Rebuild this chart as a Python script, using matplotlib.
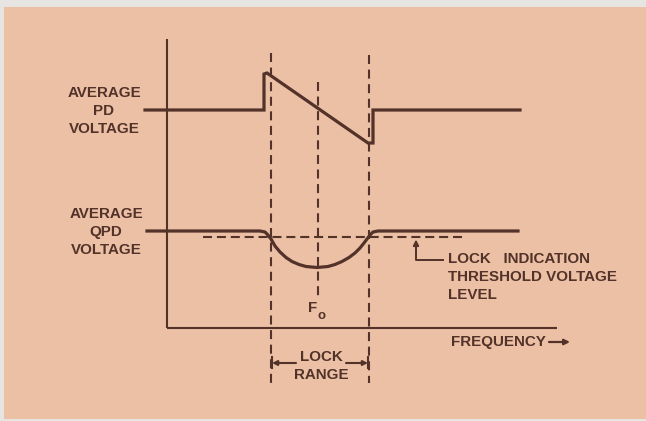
import matplotlib.pyplot as plt
from matplotlib.patches import Rectangle

plt.rcParams['font.family'] = ['Liberation Sans', 'DejaVu Sans']
plt.rcParams['lines.scale_dashes'] = False

##Setup
ink = '#523229'
paper = '#ecc0a5'
border = '#e7e5e2'

# sketch coordinates: frequency runs right, voltage level runs down the page
axis_origin = (167, 328)
yaxis_top = 39
xaxis_end = 557

# average phase detector output
pd_freq = [145, 264, 264, 267, 368, 373, 373, 520]
pd_volt = [110, 110, 74, 73, 143, 143, 110, 110]

# average quadrature phase detector output
qpd_freq = [147, 260, 265, 268, 271, 275, 280, 286, 292, 299, 306, 317,
            328, 335, 342, 349, 355, 360, 364, 367, 370, 373, 378, 518]
qpd_volt = [231, 231, 232, 235, 239, 246, 252, 257.5, 261.5, 264.5, 266.5, 267.5,
            266.5, 264.5, 261.5, 257.5, 253, 248, 243, 239, 235, 232, 231, 231]

# lock range edges and centre frequency
lock_lo, f_centre, lock_hi = 271, 318, 369
marker_top = [53, 82, 55]
marker_bottom = [383, 297, 383]

threshold = 237
threshold_span = (203, 463)

fig = plt.figure(figsize=(6.46, 4.21), dpi=100)
fig.patch.set_facecolor(border)
ax = fig.add_axes([0, 0, 1, 1])
ax.set_xlim(0, 646)
ax.set_ylim(421, 0)
ax.axis('off')
ax.add_patch(Rectangle((4, 7), 642, 412, facecolor=paper, edgecolor='none', zorder=0))

#%% axes
ax.plot([axis_origin[0], axis_origin[0]], [yaxis_top, axis_origin[1]], color=ink, lw=1.5,
        solid_capstyle='butt')
ax.plot([axis_origin[0], xaxis_end], [axis_origin[1], axis_origin[1]], color=ink, lw=1.5,
        solid_capstyle='butt')

#%% dashed markers
for x, top, bot in zip([lock_lo, f_centre, lock_hi], marker_top, marker_bottom):
    ax.plot([x, x], [top, bot], color=ink, lw=1.5, dashes=(6.5, 4))
ax.plot(threshold_span, [threshold, threshold], color=ink, lw=1.5, dashes=(6.5, 3.5))

#%% signals
ax.plot(pd_freq, pd_volt, color=ink, lw=2.3, solid_joinstyle='miter')
ax.plot(qpd_freq, qpd_volt, color=ink, lw=2.3, solid_joinstyle='round')

#%% labels
txt = dict(color=ink, fontsize=10.9, fontweight='bold', linespacing=1.38)
ax.text(104, 111, 'AVERAGE\nPD\nVOLTAGE', ha='center', va='center', **txt)
ax.text(106, 232, 'AVERAGE\nQPD\nVOLTAGE', ha='center', va='center', **txt)
ax.text(448, 277, 'LOCK   INDICATION\nTHRESHOLD VOLTAGE\nLEVEL', ha='left', va='center',
        **txt)
ax.text(313, 308, 'F', ha='center', va='center', **txt)
ax.text(322, 316, 'o', ha='center', va='center', color=ink, fontsize=9.5, fontweight='bold')
ax.text(451, 342, 'FREQUENCY', ha='left', va='center', **txt)
ax.text(321, 366, 'LOCK\nRANGE', ha='center', va='center', **txt)

# threshold leader
ax.plot([443, 416, 416], [260, 260, 246], color=ink, lw=1.4)
ax.annotate('', xy=(416, 239.5), xytext=(416, 248),
            arrowprops=dict(arrowstyle='-|>', color=ink, lw=1.4, mutation_scale=8,
                            shrinkA=0, shrinkB=0))

# frequency arrow
ax.annotate('', xy=(570, 342), xytext=(549, 342),
            arrowprops=dict(arrowstyle='-|>', color=ink, lw=1.6, mutation_scale=8,
                            shrinkA=0, shrinkB=0))

# lock range arrows
for start, end in [(296, lock_lo + 1), (346, lock_hi - 1)]:
    ax.annotate('', xy=(end, 363), xytext=(start, 363),
                arrowprops=dict(arrowstyle='-|>', color=ink, lw=1.5, mutation_scale=7,
                                shrinkA=0, shrinkB=0))
    ax.plot([end, end], [357, 368], color=ink, lw=1.5)

fig.savefig('out.png', dpi=100, facecolor=fig.get_facecolor())
